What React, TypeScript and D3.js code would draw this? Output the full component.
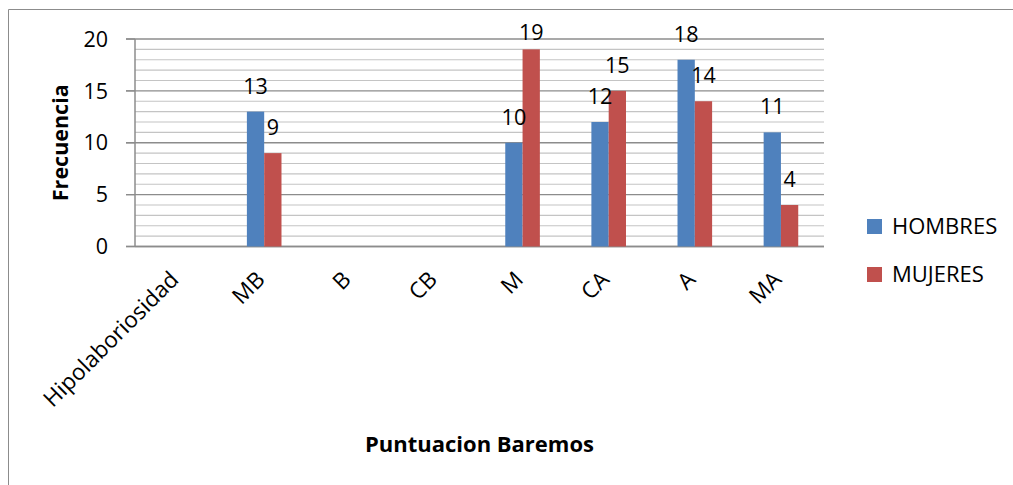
import React from "react";
import * as d3 from "d3";

const categories = ["Hipolaboriosidad", "MB", "B", "CB", "M", "CA", "A", "MA"];
const hombres: (number | null)[] = [null, 13, null, null, 10, 12, 18, 11];
const mujeres: (number | null)[] = [null, 9, null, null, 19, 15, 14, 4];
const seriesNames = ["HOMBRES", "MUJERES"];
const seriesColors = ["#4F81BD", "#C0504D"];
const yMajorTicks = [0, 5, 10, 15, 20];

const W = 1013;
const H = 485;
const left = 135;
const right = 824;
const top = 39;
const bottom = 246.5;
const FONT = "'Open Sans', 'Liberation Sans', Arial, sans-serif";

export default function App() {
  const x = d3.scaleBand<string>().domain(categories).range([left, right]).paddingInner(0).paddingOuter(0);
  const y = d3.scaleLinear().domain([0, 20]).range([bottom, top]);
  const barW = 17.3;
  const minor = d3.range(0, 21, 1);
  const series = [hombres, mujeres];

  return (
    <svg width={W} height={H} style={{ position: "absolute", left: 0, top: 0, background: "#fff" }} fontFamily={FONT}>
      <rect x={0} y={0} width={W} height={H} fill="#fff" />
      <path d={`M8.5,${H + 5} V9.5 H${W + 5}`} fill="none" stroke="#8c8c8c" strokeWidth={1} />
      {minor.filter((v) => v % 5 !== 0).map((v) => (
        <line key={"mi" + v} x1={left} x2={right} y1={y(v)} y2={y(v)} stroke="#c4c4c4" strokeWidth={1.2} />
      ))}
      {yMajorTicks.map((v) => (
        <line key={"ma" + v} x1={v === 0 ? left : 126} x2={right} y1={y(v)} y2={y(v)} stroke="#8c8c8c" strokeWidth={1.3} />
      ))}
      {yMajorTicks.map((v) => (
        <line key={"tk" + v} x1={126} x2={left} y1={y(v)} y2={y(v)} stroke="#8c8c8c" strokeWidth={1.3} />
      ))}
      <line x1={left} x2={left} y1={top} y2={bottom} stroke="#8c8c8c" strokeWidth={1.5} />
      <line x1={126} x2={right} y1={bottom} y2={bottom} stroke="#8c8c8c" strokeWidth={1.5} />
      {yMajorTicks.map((v) => (
        <text key={"yl" + v} x={108} y={y(v)} dy="0.36em" textAnchor="end" fontSize={21.5} fill="#000">
          {v}
        </text>
      ))}
      {series.map((vals, si) =>
        vals.map((v, i) => {
          if (v == null) return null;
          const cx = (x(categories[i]) as number) + x.bandwidth() / 2;
          const bx = si === 0 ? cx - barW : cx;
          return (
            <g key={`b${si}-${i}`}>
              <rect x={bx} y={y(v)} width={barW} height={y(0) - y(v)} fill={seriesColors[si]} />
            </g>
          );
        })
      )}
      {series.map((vals, si) =>
        vals.map((v, i) => {
          if (v == null) return null;
          const cx = (x(categories[i]) as number) + x.bandwidth() / 2;
          const bx = si === 0 ? cx - barW : cx;
          const ly = Math.max(y(v) - 18, 40);
          return (
            <text key={`l${si}-${i}`} x={bx + barW / 2} y={ly} textAnchor="middle" fontSize={21.5} fill="#000">
              {v}
            </text>
          );
        })
      )}
      {categories.map((c) => {
        const cx = (x(c) as number) + x.bandwidth() / 2;
        return (
          <text
            key={"xl" + c}
            transform={`translate(${cx + 2},${281}) rotate(-45)`}
            textAnchor="end"
            fontSize={22.5}
            fill="#000"
          >
            {c}
          </text>
        );
      })}
      <text
        transform={`translate(${68},${(top + bottom) / 2}) rotate(-90)`}
        textAnchor="middle"
        fontSize={21.5}
        fontWeight="bold"
        fill="#000"
      >
        Frecuencia
      </text>
      <text x={(left + right) / 2} y={452} textAnchor="middle" fontSize={22} fontWeight="bold" fill="#000">
        Puntuacion Baremos
      </text>
      {seriesNames.map((n, i) => (
        <g key={"lg" + n} transform={`translate(867,${219 + i * 48})`}>
          <rect x={0} y={0} width={15} height={15} fill={seriesColors[i]} />
          <text x={25} y={7.5} dy="0.36em" fontSize={22} fill="#000">
            {n}
          </text>
        </g>
      ))}
    </svg>
  );
}
